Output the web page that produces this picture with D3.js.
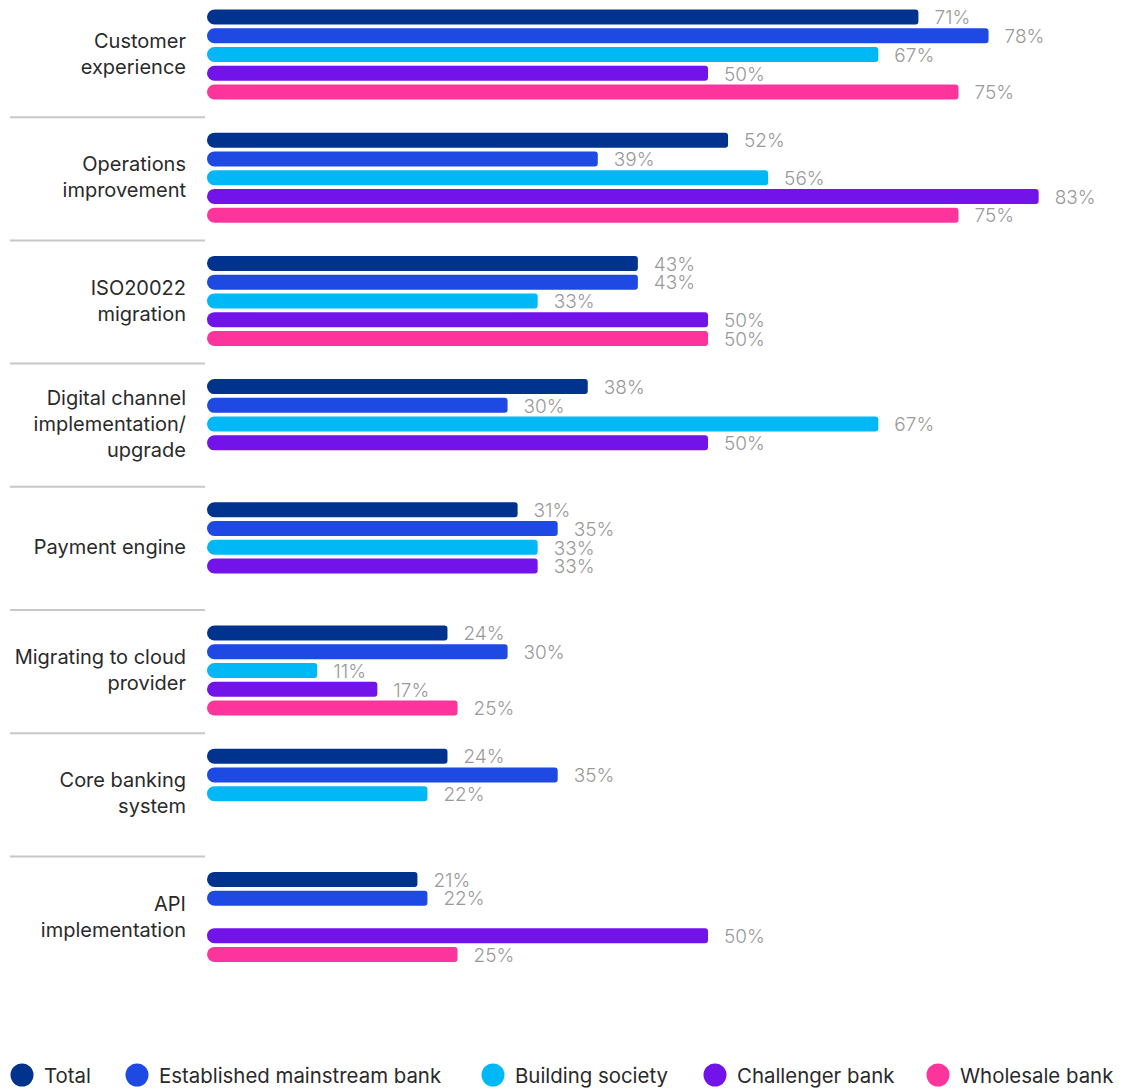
<!DOCTYPE html>
<html>
<head>
<meta charset="utf-8">
<script src="https://cdn.jsdelivr.net/npm/d3@7"></script>
<style>
  html, body { margin: 0; padding: 0; background: #fff; }
  svg { display: block; font-family: Inter, Roboto, "Noto Sans", sans-serif; }
</style>
</head>
<body>
<svg id="chart" width="1121" height="1089"></svg>
<script>
// Priorities by respondent type (share of respondents, %)
const categories = [
  ["Customer", "experience"],
  ["Operations", "improvement"],
  ["ISO20022", "migration"],
  ["Digital channel", "implementation/", "upgrade"],
  ["Payment engine"],
  ["Migrating to cloud", "provider"],
  ["Core banking", "system"],
  ["API", "implementation"]
];
const series = ["Total", "Established mainstream bank", "Building society", "Challenger bank", "Wholesale bank"];
const colors = ["#00338D", "#1E49E2", "#00B8F5", "#7213EA", "#FD349C"];

// one array per series, aligned with categories; null = no bar
const total       = [71, 52, 43, 38, 31, 24, 24, 21];
const established = [78, 39, 43, 30, 35, 30, 35, 22];
const building    = [67, 56, 33, 67, 33, 11, 22, null];
const challenger  = [50, 83, 50, 50, 33, 17, null, 50];
const wholesale   = [75, 75, 50, null, null, 25, null, 25];
const values = [total, established, building, challenger, wholesale];

const svg = d3.select("#chart");
const catKeys = categories.map(c => c.join(" "));

const x = d3.scaleLinear().domain([0, 100]).range([207, 1209]);
const y = d3.scaleBand().domain(catKeys).range([-6, 979.6]).padding(0);
const ys = d3.scaleBand().domain(series).range([13.6, 107.35]).paddingInner(0.2).paddingOuter(0.1);

const barH = ys.bandwidth();

// bar with a fully rounded left end and slightly rounded right end
function barPath(x0, x1, y0, h) {
  const rl = h / 2, rr = 3;
  const w = x1 - x0;
  const r1 = Math.min(rl, w / 2);
  return `M${x0 + r1},${y0}` +
    `H${x1 - rr}` +
    `A${rr},${rr} 0 0 1 ${x1},${y0 + rr}` +
    `V${y0 + h - rr}` +
    `A${rr},${rr} 0 0 1 ${x1 - rr},${y0 + h}` +
    `H${x0 + r1}` +
    `A${r1},${h / 2} 0 0 1 ${x0 + r1},${y0}Z`;
}

// separators between groups
svg.append("g").selectAll("line")
  .data(catKeys.slice(1))
  .join("line")
  .attr("x1", 10).attr("x2", 205)
  .attr("y1", d => y(d)).attr("y2", d => y(d))
  .attr("stroke", "#c8c8c8").attr("stroke-width", 2);

// category labels
const catG = svg.append("g");
categories.forEach((lines, i) => {
  const cy = y(catKeys[i]) + y.bandwidth() / 2;
  const lh = 26;
  const t = catG.append("text")
    .attr("text-anchor", "end")
    .attr("font-size", 20)
    .attr("fill", "#2a2a2a");
  lines.forEach((ln, j) => {
    t.append("tspan")
      .attr("x", 186)
      .attr("y", cy + (j - (lines.length - 1) / 2) * lh + 5.5)
      .text(ln);
  });
});

// bars and value labels
const rows = [];
catKeys.forEach((c, i) => {
  series.forEach((s, k) => {
    const v = values[k][i];
    if (v != null) rows.push({ c, s, k, v });
  });
});

const barsG = svg.append("g");
barsG.selectAll("path")
  .data(rows)
  .join("path")
  .attr("d", d => barPath(x(0), x(d.v), y(d.c) + ys(d.s), barH))
  .attr("fill", d => colors[d.k]);

barsG.selectAll("text")
  .data(rows)
  .join("text")
  .attr("x", d => x(d.v) + 16)
  .attr("y", d => y(d.c) + ys(d.s) + barH / 2 + 7.3)
  .attr("font-size", 19)
  .attr("font-weight", 300)
  .attr("fill", "#9a9a9a")
  .text(d => d.v + "%");

// legend
const legendX = [22, 137, 493, 715, 938];
const lg = svg.append("g").selectAll("g")
  .data(series)
  .join("g")
  .attr("transform", (d, i) => `translate(${legendX[i]},1075)`);
lg.append("circle").attr("r", 11.5).attr("fill", (d, i) => colors[i]);
lg.append("text")
  .attr("x", 22)
  .attr("y", 7.5)
  .attr("font-size", 20.4)
  .attr("fill", "#2a2a2a")
  .text(d => d);
</script>
</body>
</html>
